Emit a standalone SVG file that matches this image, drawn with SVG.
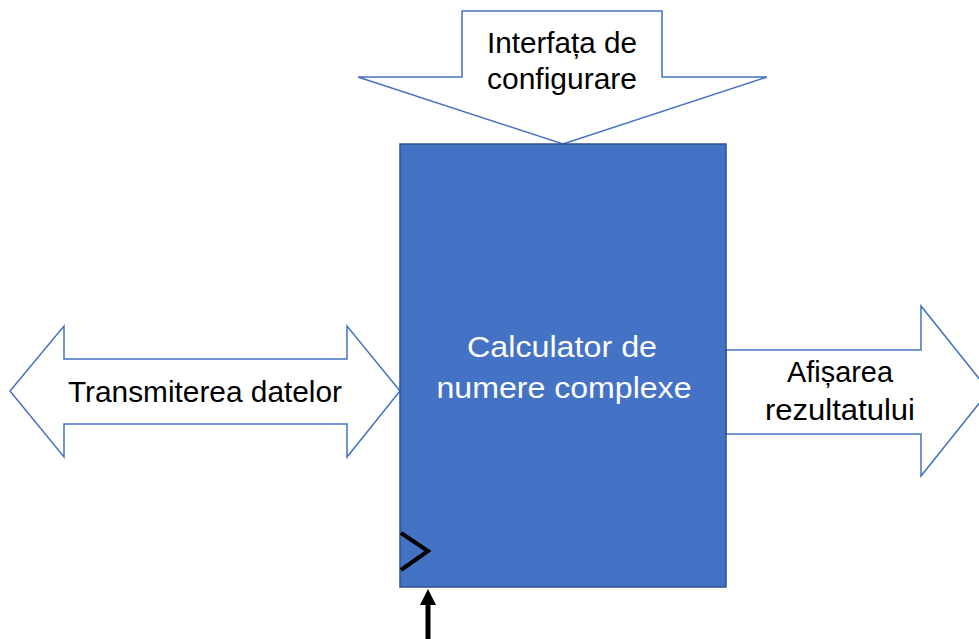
<svg xmlns="http://www.w3.org/2000/svg" width="979" height="639" viewBox="0 0 979 639">
<defs>
<style>
.arrow{fill:#FFFFFF;stroke:#4472C4;stroke-width:1.5;stroke-linejoin:miter}
.lbl{font-family:"Liberation Sans","Open Sans",Arial,sans-serif;font-size:29px;fill:#000000;text-anchor:middle}
.wlbl{font-family:"Liberation Sans","Open Sans",Arial,sans-serif;font-size:29px;fill:#FFFFFF;text-anchor:middle}
</style>
</defs>
<rect width="979" height="639" fill="#FFFFFF"/>
<g id="config">
<polygon class="arrow" points="462,11 662,11 662,77 767,77 563,144 358,77 462,77"/>
<text class="lbl" x="562" y="53" textLength="150" lengthAdjust="spacingAndGlyphs">Interfața de</text>
<text class="lbl" x="562" y="89" textLength="150" lengthAdjust="spacingAndGlyphs">configurare</text>
</g>
<g id="transmit">
<polygon class="arrow" points="10,391 64,326 64,359 347,359 347,326 400,391 347,457 347,424 64,424 64,457"/>
<text class="lbl" x="205" y="402" textLength="274" lengthAdjust="spacingAndGlyphs">Transmiterea datelor</text>
</g>
<g id="afisare">
<polygon class="arrow" points="726,350 921,350 921,306 989,391 921,476 921,434 726,434"/>
<text class="lbl" x="840" y="382" textLength="106" lengthAdjust="spacingAndGlyphs">Afișarea</text>
<text class="lbl" x="840" y="420" textLength="150" lengthAdjust="spacingAndGlyphs">rezultatului</text>
</g>
<g id="calculator">
<rect x="400" y="144" width="326" height="443" fill="#4472C4" stroke="#2F528F" stroke-width="1.5"/>
<polyline points="401,533 428,551 401,570" fill="none" stroke="#000000" stroke-width="4"/>
<text class="wlbl" x="562" y="357" textLength="190" lengthAdjust="spacingAndGlyphs">Calculator de</text>
<text class="wlbl" x="564" y="398" textLength="255" lengthAdjust="spacingAndGlyphs">numere complexe</text>
</g>
<g id="connectors">
<line x1="428" y1="639" x2="428" y2="604" stroke="#000000" stroke-width="5"/>
<polygon points="428,589 436,605 420,605" fill="#000000"/>
</g>
</svg>
